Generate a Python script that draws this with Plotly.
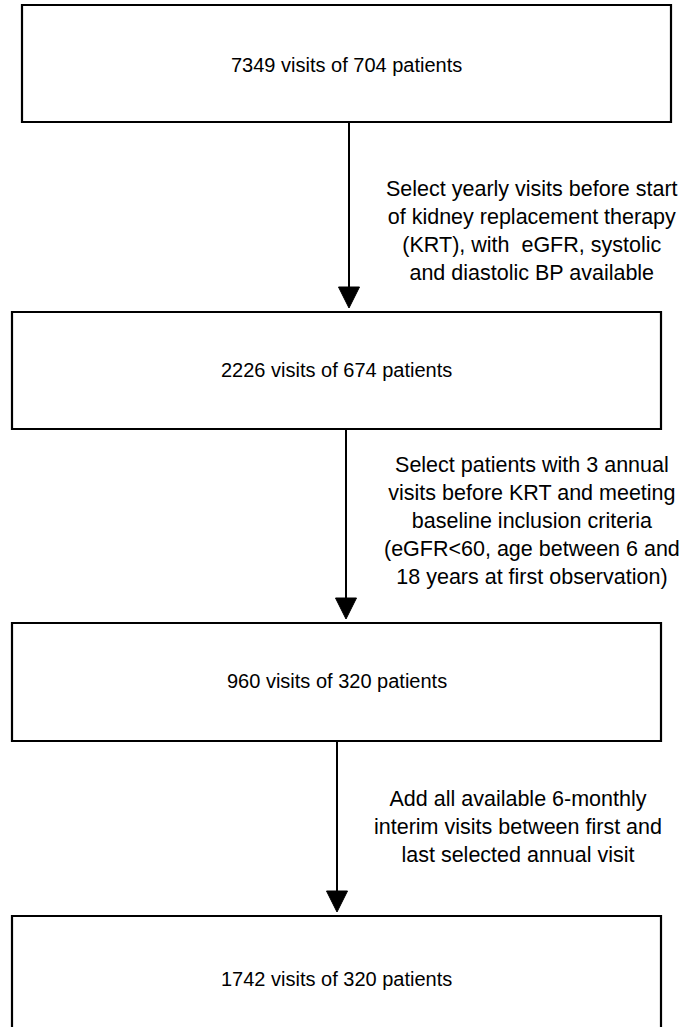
import plotly.graph_objects as go

# ---- data (text content of the flow chart) ----
box_labels = [
    "7349 visits of 704 patients",
    "2226 visits of 674 patients",
    "960 visits of 320 patients",
    "1742 visits of 320 patients",
]
step_labels = [
    "Select yearly visits before start<br>of kidney replacement therapy<br>(KRT), with  eGFR, systolic<br>and diastolic BP available",
    "Select patients with 3 annual<br>visits before KRT and meeting<br>baseline inclusion criteria<br>(eGFR&lt;60, age between 6 and<br>18 years at first observation)",
    "Add all available 6-monthly<br>interim visits between first and<br>last selected annual visit",
]

# ---- layout geometry (pixel space) ----
W, H = 684, 1027
boxes = [  # x0, x1, y0, y1
    (22, 671, 5, 122),
    (12, 661, 312, 429),
    (12, 661, 623, 741),
    (12, 661, 916, 1040),
]
box_text_y = [65, 370, 681, 979]
arrow_x = [349, 346, 337]
step_pos = [(532, 231), (532, 521), (518, 827)]

FONT = "Liberation Sans, Arial, Helvetica, sans-serif"

fig = go.Figure()
shapes = []
annotations = []
for (x0, x1, y0, y1), ty, lab in zip(boxes, box_text_y, box_labels):
    shapes.append(dict(type="rect", xref="x", yref="y", x0=x0, x1=x1, y0=y0, y1=y1,
                       line=dict(color="black", width=2.2), fillcolor="white", layer="below"))
    annotations.append(dict(x=(x0 + x1) / 2, y=ty, xref="x", yref="y", text=lab,
                            showarrow=False, font=dict(family=FONT, size=20, color="black"),
                            xanchor="center", yanchor="middle"))

for i, ax in enumerate(arrow_x):
    top = boxes[i][3]
    tip = boxes[i + 1][2] - 4
    head = 21
    hw = 10.5
    shapes.append(dict(type="line", xref="x", yref="y", x0=ax, x1=ax, y0=top, y1=tip - head + 2,
                       line=dict(color="black", width=2)))
    shapes.append(dict(type="path", xref="x", yref="y",
                       path=f"M {ax-hw},{tip-head} L {ax+hw},{tip-head} L {ax},{tip} Z",
                       fillcolor="black", line=dict(color="black", width=1)))

for (sx, sy), lab in zip(step_pos, step_labels):
    annotations.append(dict(x=sx, y=sy, xref="x", yref="y", text=lab, showarrow=False,
                            align="center", xanchor="center", yanchor="middle",
                            font=dict(family=FONT, size=21.5, color="black")))

fig.update_layout(
    width=W, height=H,
    margin=dict(l=0, r=0, t=0, b=0),
    paper_bgcolor="white", plot_bgcolor="white",
    xaxis=dict(range=[0, W], visible=False, fixedrange=True),
    yaxis=dict(range=[H, 0], visible=False, fixedrange=True),
    shapes=shapes, annotations=annotations, showlegend=False,
)
fig.write_html("out.html", config={"displayModeBar": False},
               post_script="document.body.style.margin='0';document.body.style.overflow='hidden';")
